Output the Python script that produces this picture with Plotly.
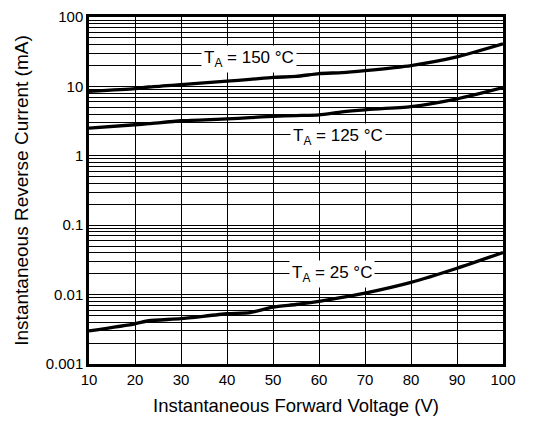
import math
import plotly.graph_objects as go

voltage = [10, 20, 23, 30, 40, 45, 50, 55, 60, 65, 70, 80, 90, 100]

i_150 = [8.5, 9.3, 9.8, 10.6, 11.9, 12.6, 13.5, 13.9, 15.3, 15.8, 16.9, 20.0, 26.6, 41.0]
i_125 = [2.5, 2.8, 2.9, 3.2, 3.4, 3.55, 3.7, 3.8, 3.9, 4.3, 4.6, 5.1, 6.6, 9.6]
i_25 = [0.0030, 0.0038, 0.0042, 0.0045, 0.0053, 0.0055, 0.0066, 0.0072, 0.0080, 0.0091, 0.0105, 0.015, 0.024, 0.0405]

series_labels = ["T<sub>A</sub> = 150 °C", "T<sub>A</sub> = 125 °C", "T<sub>A</sub> = 25 °C"]
label_x = [44.8, 64.1, 62.8]
label_y = [24.9, 1.89, 0.0196]

x_ticks = [10, 20, 30, 40, 50, 60, 70, 80, 90, 100]
y_major = [0.001, 0.01, 0.1, 1, 10, 100]
y_major_text = ["0.001", "0.01", "0.1", "1", "10", "100"]

y_all = []
y_all_text = []
for k, d in enumerate(y_major[:-1]):
    for m in range(1, 10):
        y_all.append(d * m)
        y_all_text.append(y_major_text[k] if m == 1 else "")
y_all.append(y_major[-1])
y_all_text.append(y_major_text[-1])

FONT = "Liberation Sans, Arial, sans-serif"

fig = go.Figure()
for ys in [i_150, i_125, i_25]:
    fig.add_trace(go.Scatter(x=voltage, y=ys, mode="lines",
                             line=dict(color="black", width=3.3, shape="spline", smoothing=0.6),
                             showlegend=False, hoverinfo="skip"))

for t, lx, ly in zip(series_labels, label_x, label_y):
    fig.add_annotation(x=lx, y=math.log10(ly), text=t, showarrow=False,
                       bgcolor="white", borderpad=2,
                       font=dict(family=FONT, size=17, color="black"))

# page body has an 8px default margin; compensate so the plot lands where the reference has it
fig.update_layout(
    width=528, height=416,
    margin=dict(l=81, r=33, t=9, b=60),
    paper_bgcolor="white", plot_bgcolor="white",
    font=dict(family=FONT, size=15, color="black"),
)
fig.update_xaxes(range=[10, 100], tickvals=x_ticks, showgrid=True, gridcolor="black", gridwidth=1,
                 showline=True, linecolor="black", linewidth=2.5, mirror=True, zeroline=False,
                 ticks="", ticklen=0, tickfont=dict(size=15), automargin=False,
                 ticklabeloverflow="allow",
                 title=dict(text="Instantaneous Forward Voltage (V)", font=dict(size=18.5), standoff=13))
fig.update_yaxes(type="log", range=[-3, 2], tickvals=y_all, ticktext=y_all_text,
                 showgrid=True, gridcolor="black", gridwidth=1,
                 showline=True, linecolor="black", linewidth=2.5, mirror=True, zeroline=False,
                 ticks="", ticklen=0, tickfont=dict(size=15), automargin=False,
                 ticklabeloverflow="allow",
                 title=dict(text="Instantaneous Reverse Current (mA)", font=dict(size=19), standoff=13))

fig.write_html("out.html")
